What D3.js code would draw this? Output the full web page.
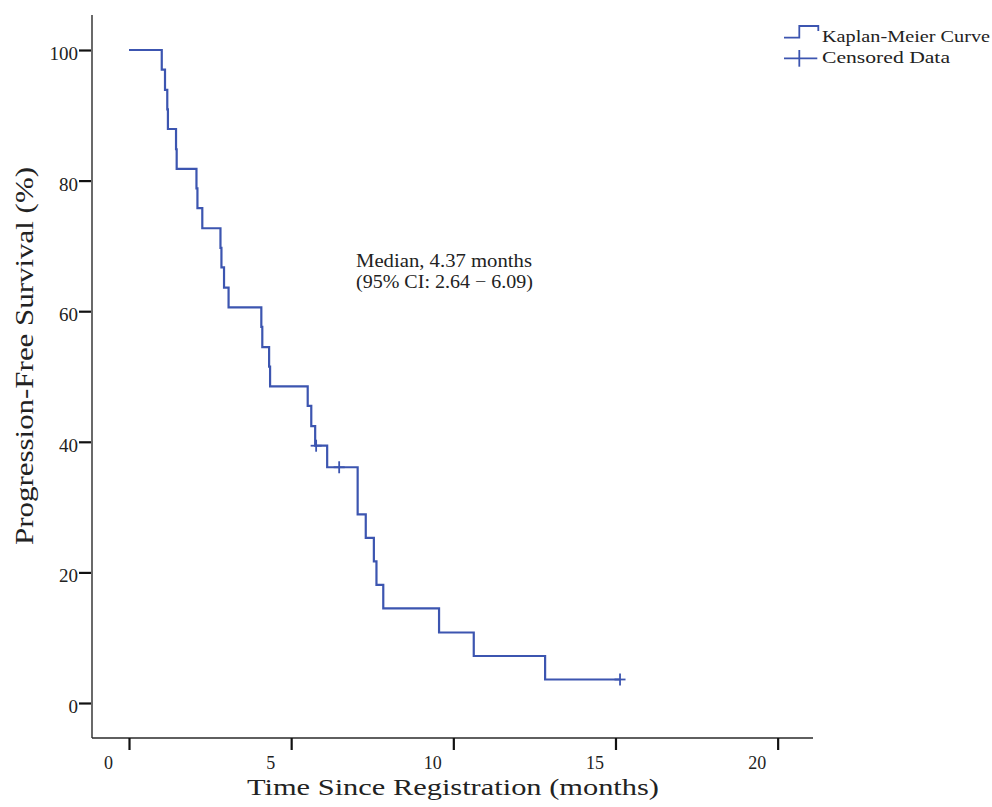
<!DOCTYPE html>
<html>
<head>
<meta charset="utf-8">
<script src="https://cdn.jsdelivr.net/npm/d3@7"></script>
<style>
  html, body { margin: 0; padding: 0; background: #fff; }
  svg { display: block; }
  text { font-family: "Liberation Serif", "DejaVu Serif", serif; fill: #222; }
</style>
</head>
<body>
<svg id="chart" width="992" height="807"></svg>
<script>
// ---- data ----
const stepTimes = [0, 1.01, 1.11, 1.18, 1.20, 1.45, 1.47, 2.08, 2.11, 2.26, 2.82, 2.85, 2.93, 3.07,
  4.08, 4.11, 4.32, 4.35, 5.51, 5.62, 5.74, 6.11, 7.05, 7.30, 7.55, 7.63, 7.84, 9.56, 10.63, 12.83, 15.14];
const stepSurvival = [100, 97.0, 93.9, 90.9, 87.9, 84.8, 81.8, 78.8, 75.8, 72.7, 69.7, 66.7, 63.6, 60.6,
  57.6, 54.5, 51.5, 48.5, 45.5, 42.4, 39.4, 36.1, 28.9, 25.3, 21.7, 18.1, 14.5, 10.8, 7.2, 3.6, 3.6];
const censorTimes = [5.77, 6.48, 15.14];
const censorSurvival = [39.4, 36.1, 3.6];
const xTicks = [0, 5, 10, 15, 20];
const yTicks = [0, 20, 40, 60, 80, 100];
const xTitle = "Time Since Registration (months)";
const yTitle = "Progression-Free Survival (%)";
const annotationLines = ["Median, 4.37 months", "(95% CI: 2.64 \u2212 6.09)"];
const legendLabels = ["Kaplan-Meier Curve", "Censored Data"];

// ---- layout ----
const curveColor = "#3c55b0";
const axisColor = "#2a2a2a";
const svg = d3.select("#chart");

const x = d3.scaleLinear().domain([-1.141, 21.09]).range([92, 813]);
const y = d3.scaleLinear().domain([-5.36, 105.36]).range([738, 15]);

// axis lines
svg.append("line").attr("x1", x.range()[0]).attr("x2", x.range()[1])
  .attr("y1", y.range()[0]).attr("y2", y.range()[0])
  .attr("stroke", axisColor).attr("stroke-width", 1.4);
svg.append("line").attr("x1", x.range()[0]).attr("x2", x.range()[0])
  .attr("y1", y.range()[0]).attr("y2", y.range()[1])
  .attr("stroke", axisColor).attr("stroke-width", 1.4);

// x axis ticks via d3 axis
const xAxis = d3.axisBottom(x).tickValues(xTicks).tickSize(12).tickSizeOuter(0).tickFormat(d3.format("d"));
const gx = svg.append("g").attr("transform", `translate(0,${y.range()[0]})`).call(xAxis);
gx.select(".domain").remove();
gx.selectAll(".tick line").attr("stroke", "#111").attr("stroke-width", 2.2);
gx.selectAll(".tick text").attr("fill", "#222").attr("font-size", 18)
  .attr("font-family", "Liberation Serif").attr("dx", -21).attr("y", 18.5).attr("dy", "0.71em");

// y axis ticks
const yAxis = d3.axisLeft(y).tickValues(yTicks).tickSize(12).tickSizeOuter(0).tickFormat(d3.format("d"));
const gy = svg.append("g").attr("transform", `translate(${x.range()[0] - 1},0)`).call(yAxis);
gy.select(".domain").remove();
gy.selectAll(".tick line").attr("stroke", "#111").attr("stroke-width", 2.2);
gy.selectAll(".tick text").attr("fill", "#222").attr("font-size", 19)
  .attr("font-family", "Liberation Serif").attr("x", -13).attr("dy", "0.5em");

// axis titles
svg.append("text").attr("x", 453).attr("y", 795).attr("text-anchor", "middle")
  .attr("font-size", 23.5).attr("textLength", 412).attr("lengthAdjust", "spacingAndGlyphs")
  .text(xTitle);
svg.append("text").attr("transform", "translate(33,356) rotate(-90)").attr("text-anchor", "middle")
  .attr("font-size", 25).attr("textLength", 378).attr("lengthAdjust", "spacingAndGlyphs")
  .text(yTitle);

// KM curve
const pts = stepTimes.map((t, i) => [t, stepSurvival[i]]);
const line = d3.line().x(d => x(d[0])).y(d => y(d[1])).curve(d3.curveStepAfter);
svg.append("path").datum(pts).attr("d", line)
  .attr("fill", "none").attr("stroke", curveColor).attr("stroke-width", 2.2);

// censor marks
const cs = censorTimes.map((t, i) => [t, censorSurvival[i]]);
const cg = svg.append("g").attr("stroke", curveColor).attr("stroke-width", 1.8);
cs.forEach(d => {
  const cx = x(d[0]), cy = y(d[1]);
  cg.append("line").attr("x1", cx - 5.5).attr("x2", cx + 5.5).attr("y1", cy).attr("y2", cy);
  cg.append("line").attr("x1", cx).attr("x2", cx).attr("y1", cy - 6).attr("y2", cy + 6);
});

// annotation
annotationLines.forEach((s, i) => {
  svg.append("text").attr("x", 356).attr("y", 267 + i * 20.5)
    .attr("font-size", 18.5).attr("textLength", i === 0 ? 176 : 177)
    .attr("lengthAdjust", "spacingAndGlyphs").text(s);
});

// legend
const lg = svg.append("g");
lg.append("path").attr("d", "M784,37.7H799.3V26H818.3V31")
  .attr("fill", "none").attr("stroke", curveColor).attr("stroke-width", 1.8);
lg.append("line").attr("x1", 784).attr("x2", 817.3).attr("y1", 58.3).attr("y2", 58.3)
  .attr("stroke", curveColor).attr("stroke-width", 1.8);
lg.append("line").attr("x1", 799.3).attr("x2", 799.3).attr("y1", 50).attr("y2", 66.7)
  .attr("stroke", curveColor).attr("stroke-width", 1.8);
lg.append("text").attr("x", 822).attr("y", 41.5).attr("font-size", 17.5)
  .attr("textLength", 168).attr("lengthAdjust", "spacingAndGlyphs").text(legendLabels[0]);
lg.append("text").attr("x", 822).attr("y", 63).attr("font-size", 17.5)
  .attr("textLength", 128).attr("lengthAdjust", "spacingAndGlyphs").text(legendLabels[1]);
</script>
</body>
</html>
